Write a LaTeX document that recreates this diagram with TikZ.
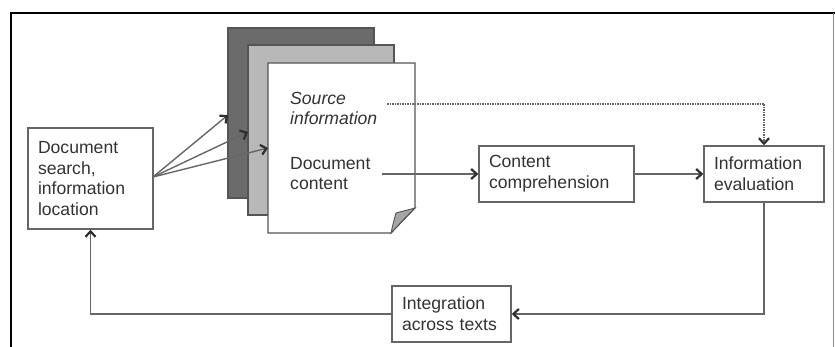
\documentclass[tikz,border=0pt]{standalone}
\usepackage{fontspec}
\setmainfont{Liberation Sans}
\usetikzlibrary{arrows.meta}
\definecolor{ln}{HTML}{666666}
\definecolor{tip}{HTML}{2E2E2E}
\definecolor{tx}{HTML}{333333}
\definecolor{pagedark}{HTML}{6B6B6B}
\definecolor{pagelight}{HTML}{B8B8B8}
\definecolor{pageedge}{HTML}{555555}
\begin{document}
\begin{tikzpicture}[x=1pt,y=-1pt,
  txt/.style={text=tx,font=\fontsize{17.6}{20.8}\selectfont},
  box/.style={txt,draw=ln,line width=1.4pt,fill=white,align=left,inner xsep=10pt,inner ysep=0pt},
  page/.style={draw=pageedge,line width=1.2pt,inner sep=0pt},
  conn/.style={draw=ln,line width=1.4pt,-{Straight Barb[length=5.5pt,width=10pt,line width=2.2pt,color=tip]}},
  dotconn/.style={conn,dash pattern=on 1.5pt off 1pt,line width=1.1pt}]
\useasboundingbox (0,0) rectangle (835,347);
% frame
\draw[black,line width=2pt] (11,13) -- (835,13);
\draw[black,line width=1.5pt] (11,12) -- (11,347);
\draw[black!45,line width=0.8pt] (833,13) -- (833,347);

% boxes
\node[box,text width=105pt,minimum height=101pt] (search) at (90.5,178.5) {Document\\search,\\information\\location};
\node[box,text width=135pt,minimum height=56pt] (comp) at (556.5,174) {Content\\comprehension};
\node[box,text width=100pt,minimum height=56pt] (eval) at (764,174) {Information\\evaluation};
\node[box,text width=99pt,minimum height=56pt] (integ) at (451.5,314) {Integration\\across texts};

% pages
\node[page,fill=pagedark,minimum width=146pt,minimum height=170pt] (p1) at (301,113) {};
\node[page,fill=pagelight,minimum width=146pt,minimum height=170pt] (p2) at (321,130) {};
\draw[page,fill=white] (268,63) -- (415,63) -- (415,208) -- (391,233) -- (268,233) -- cycle;
\draw[page,fill=black!35,line width=0.9pt] (391,233) .. controls (393,224) .. (396,213) -- (415,208) .. controls (404,219) .. (391,233) -- cycle;

\node[txt,anchor=west,align=left,inner sep=0pt,font=\fontsize{17.6}{20.8}\selectfont\itshape] (src) at (290,108.5) {Source\\information};
\node[txt,anchor=west,align=left,inner sep=0pt] (dc) at (290,173.5) {Document\\content};

% connectors
\coordinate (o) at (153,177);
\coordinate (t1) at (228,115);
\coordinate (t2) at (248,132);
\coordinate (t3) at (268,148);
\draw[conn] (o) -- (t1);
\draw[conn] (o) -- (t2);
\draw[conn] (o) -- (t3);

\coordinate (d0) at (387,104);
\draw[dotconn] (d0) -| (eval.north);
\coordinate (c0) at (382,174);
\draw[conn] (c0) -- (comp.west);
\draw[conn] (comp.east) -- (eval.west);
\draw[conn] (eval.south) |- (integ.east);
\draw[conn] (integ.west) -| (search.south);
\end{tikzpicture}
\end{document}
